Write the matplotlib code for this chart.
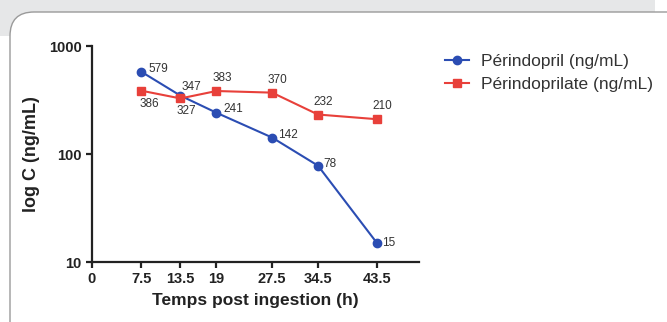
import matplotlib
matplotlib.use("Agg")
import matplotlib.pyplot as plt
from matplotlib.patches import Rectangle, FancyBboxPatch

plt.rcParams['font.family'] = ['Liberation Sans', 'DejaVu Sans']

# Data
times = [7.5, 13.5, 19, 27.5, 34.5, 43.5]
perindopril = [579, 347, 241, 142, 78, 15]
perindoprilate = [386, 327, 383, 370, 232, 210]
xticks = [0, 7.5, 13.5, 19, 27.5, 34.5, 43.5]
xtick_labels = ["0", "7.5", "13.5", "19", "27.5", "34.5", "43.5"]
yticks = [10, 100, 1000]
ytick_labels = ["10", "100", "1000"]
series_names = ["Périndopril (ng/mL)", "Périndoprilate (ng/mL)"]

W, H = 667, 322
fig = plt.figure(figsize=(W / 100, H / 100), dpi=100)
fig.patch.set_facecolor("white")

# Background frame (gray strip + white rounded panel)
gray = "#e6e7e8"
fig.patches.append(Rectangle((0, 1 - 36 / H), 655 / W, 36 / H, transform=fig.transFigure,
                             facecolor=gray, edgecolor="none", zorder=0))
panel = FancyBboxPatch((10, -200), 900, H - 12 + 200,
                       boxstyle="round,pad=0,rounding_size=24",
                       transform=None, facecolor="white", edgecolor="#9a9a9a",
                       linewidth=1.0, zorder=0.5)
fig.patches.append(panel)

x_max = 50
px_per_unit = 6.55
ax_left = 92
ax_right_px = ax_left + x_max * px_per_unit
ax_top_px, ax_bot_px = 46, 262
ax = fig.add_axes([ax_left / W, 1 - ax_bot_px / H,
                   (ax_right_px - ax_left) / W, (ax_bot_px - ax_top_px) / H])
ax.set_facecolor("none")
ax.set_zorder(2)

blue = "#2b4db3"
red = "#e8403a"

ax.plot(times, perindopril, color=blue, marker="o", markersize=6, linewidth=1.5,
        label=series_names[0], zorder=3, clip_on=False)
ax.plot(times, perindoprilate, color=red, marker="s", markersize=6, linewidth=1.5,
        label=series_names[1], zorder=3, clip_on=False)

ax.set_yscale("log")
ax.set_ylim(10, 1000)
ax.set_xlim(0, x_max)
ax.set_xticks(xticks)
ax.set_xticklabels(xtick_labels)
ax.set_yticks(yticks)
ax.set_yticklabels(ytick_labels)
ax.yaxis.set_minor_locator(matplotlib.ticker.NullLocator())

for s in ["top", "right"]:
    ax.spines[s].set_visible(False)
for s in ["left", "bottom"]:
    ax.spines[s].set_linewidth(1.6)
    ax.spines[s].set_color("#222222")
ax.tick_params(axis="both", direction="out", length=4.5, width=1.6, color="#222222",
               labelsize=10.5, labelcolor="#222222", pad=3)
for lbl in ax.get_xticklabels() + ax.get_yticklabels():
    lbl.set_fontweight("bold")

ax.set_xlabel("Temps post ingestion (h)", fontsize=12.5, fontweight="bold", color="#222222",
              labelpad=5)
ax.set_ylabel("log C (ng/mL)", fontsize=13, fontweight="bold", color="#222222", labelpad=6)

# Data labels
lab_col = "#333333"
blue_off = [(5, 2), (0.5, 6), (5, 3), (4.5, 2), (4, 1), (4, 0)]
for (x, y, off) in zip(times, perindopril, blue_off):
    ax.annotate(str(y), (x, y), xytext=off, textcoords="offset points",
                ha="left", va="center", fontsize=8.5, color=lab_col)
red_off = [(-1.5, -5), (-3, -5), (-3, 5), (-3, 5), (-3.5, 5), (-3, 5)]
red_va = ["top", "top", "bottom", "bottom", "bottom", "bottom"]
for (x, y, off, va) in zip(times, perindoprilate, red_off, red_va):
    ax.annotate(str(y), (x, y), xytext=off, textcoords="offset points",
                ha="left", va=va, fontsize=8.5, color=lab_col)

leg = fig.legend(loc="upper left", bbox_to_anchor=(438 / W, 1 - 47 / H),
                 frameon=False, fontsize=12.5, handlelength=1.4, labelspacing=0.45,
                 handletextpad=0.7, borderaxespad=0)
leg.set_zorder(3)
for t in leg.get_texts():
    t.set_color("#333333")

fig.savefig("out.png", dpi=100, facecolor=fig.get_facecolor())
